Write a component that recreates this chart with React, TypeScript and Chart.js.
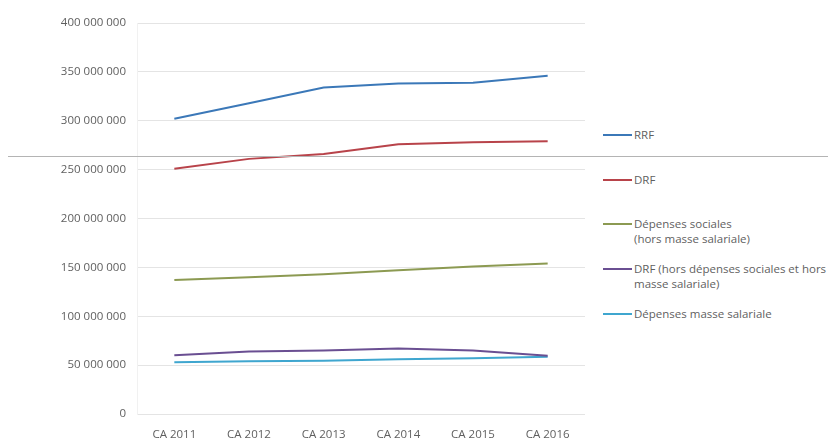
import React, { useEffect, useRef } from "react";
import { Chart, registerables } from "chart.js";

Chart.register(...registerables);

// Compte administratif years
const categories = ["CA 2011", "CA 2012", "CA 2013", "CA 2014", "CA 2015", "CA 2016"];

// Amounts in euros
const rrf = [302000000, 318000000, 334000000, 338000000, 339000000, 346000000];
const drf = [251000000, 261000000, 266000000, 276000000, 278000000, 279000000];
const depensesSociales = [137000000, 140000000, 143000000, 147000000, 151000000, 154000000];
const drfHors = [60000000, 64000000, 65000000, 67000000, 65000000, 59500000];
const masseSalariale = [53000000, 54000000, 54500000, 56000000, 57000000, 58500000];

const seriesLabels = [
  "RRF",
  "DRF",
  "Dépenses sociales (hors masse salariale)",
  "DRF (hors dépenses sociales et hors masse salariale)",
  "Dépenses masse salariale",
];
const legendLines = [
  ["RRF"],
  ["DRF"],
  ["Dépenses sociales", "(hors masse salariale)"],
  ["DRF (hors dépenses sociales et hors", "masse salariale)"],
  ["Dépenses masse salariale"],
];
const seriesColors = ["#3b78b8", "#b8434a", "#8c9a52", "#6a4f92", "#3fa6cf"];
const seriesValues = [rrf, drf, depensesSociales, drfHors, masseSalariale];
const legendTops = [135, 180, 224, 269, 314];

const FONT = "'Open Sans', 'DejaVu Sans', sans-serif";
const TEXT = "#5f5f5f";
const FONT_SIZE = 11.5;

const formatAmount = (v: number) =>
  Math.round(v)
    .toString()
    .replace(/\B(?=(\d{3})+(?!\d))/g, " ");

export default function App() {
  const canvasRef = useRef<HTMLCanvasElement | null>(null);

  useEffect(() => {
    if (!canvasRef.current) return;
    const chart = new Chart(canvasRef.current, {
      type: "line",
      data: {
        labels: categories,
        datasets: seriesValues.map((values, i) => ({
          label: seriesLabels[i],
          data: values,
          borderColor: seriesColors[i],
          backgroundColor: seriesColors[i],
          borderWidth: 2,
          pointRadius: 0,
          tension: 0,
          fill: false,
        })),
      },
      options: {
        animation: false,
        responsive: false,
        maintainAspectRatio: false,
        layout: { padding: { left: 0, right: 15, top: 23, bottom: 0 } },
        plugins: {
          legend: { display: false },
          tooltip: { enabled: false },
        },
        scales: {
          x: {
            offset: true,
            grid: { display: false, drawTicks: false },
            border: { display: false },
            ticks: {
              color: TEXT,
              font: { family: FONT, size: FONT_SIZE },
              padding: 14,
              maxRotation: 0,
            },
            afterFit: (scale: any) => {
              scale.height = 27;
            },
          },
          y: {
            min: 0,
            max: 400000000,
            grid: { color: "#e4e4e4", lineWidth: 1, drawTicks: false },
            border: { display: true, color: "#f1f1f1" },
            ticks: {
              stepSize: 50000000,
              color: TEXT,
              font: { family: FONT, size: FONT_SIZE },
              padding: 11,
              callback: (v: any) => formatAmount(Number(v)),
            },
            afterFit: (scale: any) => {
              scale.width = 137;
            },
          },
        },
      },
    });
    return () => chart.destroy();
  }, []);

  return (
    <div
      style={{
        position: "fixed",
        left: 0,
        top: 0,
        width: 828,
        height: 441,
        background: "#ffffff",
        overflow: "hidden",
        fontFamily: FONT,
      }}
    >
      <canvas
        ref={canvasRef}
        width={600}
        height={441}
        style={{ position: "absolute", left: 0, top: 0, width: 600, height: 441 }}
      />
      <div
        style={{
          position: "absolute",
          left: 8,
          top: 156,
          width: 820,
          height: 0,
          borderTop: "1px solid #b4b4b4",
        }}
      />
      {legendLines.map((lines, i) => (
        <div
          key={seriesLabels[i]}
          style={{
            position: "absolute",
            left: 603,
            top: legendTops[i] - 8,
            display: "flex",
            alignItems: "flex-start",
          }}
        >
          <div
            style={{
              width: 29,
              height: 0,
              borderTop: `2px solid ${seriesColors[i]}`,
              marginTop: 7,
              marginRight: 2,
            }}
          />
          <div
            style={{
              fontSize: FONT_SIZE,
              color: TEXT,
              lineHeight: "15px",
              whiteSpace: "nowrap",
            }}
          >
            {lines.map((t) => (
              <div key={t}>{t}</div>
            ))}
          </div>
        </div>
      ))}
    </div>
  );
}
